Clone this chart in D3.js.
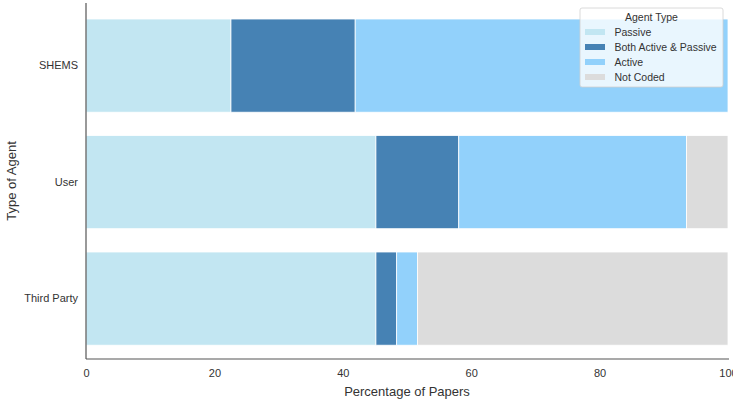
<!DOCTYPE html>
<html><head><meta charset="utf-8">
<script src="https://cdn.jsdelivr.net/npm/d3@7"></script>
<style>body{margin:0;background:#fff;}svg{display:block;font-family:"Liberation Sans",Arial,sans-serif;}</style>
</head><body><svg id="c" width="733" height="399"></svg>
<script>
const categories = ["SHEMS", "User", "Third Party"];
const seriesNames = ["Passive", "Both Active & Passive", "Active", "Not Coded"];
const passive = [22.58, 45.16, 45.16];
const both = [19.35, 12.90, 3.23];
const active = [58.07, 35.48, 3.23];
const notCoded = [0, 6.46, 48.38];
const xTicks = [0, 20, 40, 60, 80, 100];
const colors = ["#c2e6f2", "#4682b4", "#92d1fb", "#dcdcdc"];

const svg = d3.select("#c");
const m = {l: 86, t: 3, b: 359};
const x = d3.scaleLinear().domain([0, 100]).range([m.l, 728]);
const y = d3.scaleBand().domain(categories).range([7.35, 356.85]).paddingInner(0.2).paddingOuter(0.1);

const rows = categories.map((c, i) => ({cat: c, Passive: passive[i], "Both Active & Passive": both[i], Active: active[i], "Not Coded": notCoded[i]}));
const stack = d3.stack().keys(seriesNames)(rows);

svg.append("g").selectAll("g").data(stack).join("g")
  .attr("fill", (d, i) => colors[i])
  .selectAll("rect").data(d => d).join("rect")
  .attr("x", d => x(d[0]))
  .attr("width", d => Math.max(0, x(d[1]) - x(d[0])))
  .attr("y", d => y(d.data.cat))
  .attr("height", y.bandwidth())
  .attr("stroke", "#fff").attr("stroke-width", 0.8);

// axes
const xAxis = svg.append("g").attr("transform", `translate(0,${m.b})`)
  .call(d3.axisBottom(x).tickValues(xTicks).tickSize(0).tickPadding(10));
xAxis.select(".domain").remove();
xAxis.selectAll("text").attr("font-size", 11).attr("fill", "#333").attr("font-family", "Liberation Sans, Arial, sans-serif");

const yAxis = svg.append("g").attr("transform", `translate(${m.l},0)`)
  .call(d3.axisLeft(y).tickSize(0).tickPadding(8));
yAxis.select(".domain").remove();
yAxis.selectAll("text").attr("font-size", 11).attr("fill", "#333").attr("font-family", "Liberation Sans, Arial, sans-serif");

svg.append("line").attr("x1", m.l).attr("x2", m.l).attr("y1", m.t).attr("y2", m.b)
  .attr("stroke", "#555").attr("stroke-width", 1.2);
svg.append("line").attr("x1", m.l).attr("x2", 729).attr("y1", m.b).attr("y2", m.b)
  .attr("stroke", "#555").attr("stroke-width", 1.2);

svg.append("text").attr("x", 407).attr("y", 396).attr("text-anchor", "middle")
  .attr("font-size", 13).attr("fill", "#333").text("Percentage of Papers");
svg.append("text").attr("transform", "translate(16,181) rotate(-90)").attr("text-anchor", "middle")
  .attr("font-size", 13).attr("fill", "#333").text("Type of Agent");

// legend
const lg = svg.append("g").attr("transform", "translate(580,8)");
lg.append("rect").attr("width", 143).attr("height", 79).attr("rx", 2)
  .attr("fill", "rgba(255,255,255,0.8)").attr("stroke", "#d0d0d0").attr("stroke-width", 0.8);
lg.append("text").attr("x", 71.5).attr("y", 13).attr("text-anchor", "middle")
  .attr("font-size", 10.5).attr("fill", "#333").text("Agent Type");
seriesNames.forEach((s, i) => {
  const yy = 24 + i * 15;
  lg.append("rect").attr("x", 5).attr("y", yy - 3).attr("width", 20).attr("height", 6).attr("fill", colors[i]);
  lg.append("text").attr("x", 34.5).attr("y", yy + 4).attr("font-size", 10.5).attr("fill", "#333").text(s);
});
</script></body></html>
